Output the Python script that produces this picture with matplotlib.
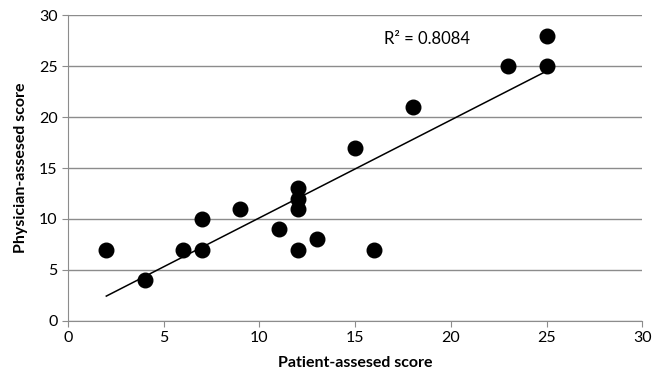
import numpy as np
import matplotlib

matplotlib.use("Agg")
import matplotlib.pyplot as plt

patient = [2, 4, 6, 7, 7, 9, 11, 12, 12, 12, 12, 13, 15, 16, 18, 23, 25, 25]
physician = [7, 4, 7, 10, 7, 11, 9, 13, 12, 11, 7, 8, 17, 7, 21, 25, 28, 25]
r2_label = "R² = 0.8084"
ticks = [0, 5, 10, 15, 20, 25, 30]

plt.rcParams["font.family"] = ["Lato", "DejaVu Sans"]

fig = plt.figure(figsize=(6.54, 3.88), dpi=100)
ax = fig.add_axes([0.104, 0.173, 0.878, 0.788])

x = np.array(patient, dtype=float)
y = np.array(physician, dtype=float)
slope, intercept = np.polyfit(x, y, 1)
xs = np.array([x.min(), x.max()])
ax.plot(xs, slope * xs + intercept, color="black", lw=1.1, zorder=2)
ax.scatter(x, y, s=110, color="black", zorder=3)

ax.set_xlim(0, 30)
ax.set_ylim(0, 30)
ax.set_xticks(ticks)
ax.set_yticks(ticks)
ax.grid(axis="y", color="#8c8c8c", lw=1.0)
ax.set_axisbelow(True)
for side in ("top", "right"):
    ax.spines[side].set_visible(False)
for side in ("left", "bottom"):
    ax.spines[side].set_color("#8c8c8c")
ax.tick_params(colors="#8c8c8c", labelcolor="black", labelsize=11.5, length=4)

ax.set_xlabel("Patient-assesed score", fontsize=11.5, fontweight="bold", labelpad=8)
ax.set_ylabel("Physician-assesed score", fontsize=11.5, fontweight="bold", labelpad=8)
ax.text(0.55, 0.905, r2_label, transform=ax.transAxes, fontsize=12)

fig.savefig("out.png", dpi=100)
